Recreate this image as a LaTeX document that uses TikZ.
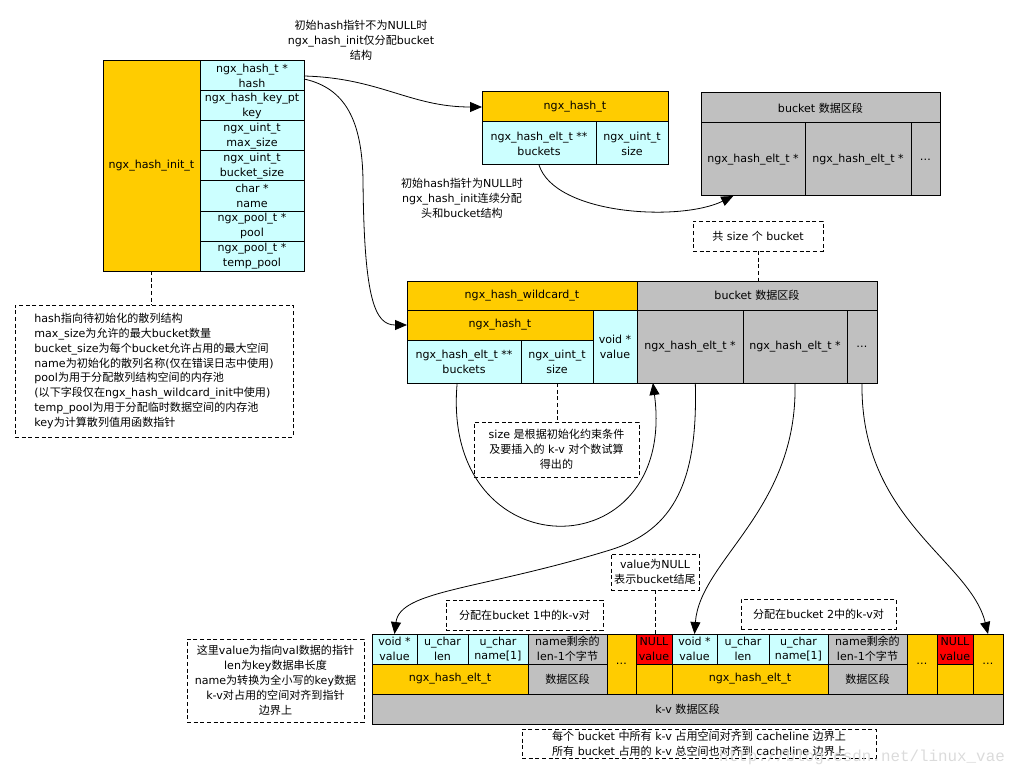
\documentclass[tikz,border=0pt]{standalone}
\usepackage{fontspec}
\setmainfont{DejaVu Sans}
\newfontfamily\cjkfont{Noto Sans CJK SC}
\newfontfamily\wmfont{Liberation Mono}
\usetikzlibrary{arrows.meta, calc}

\XeTeXinterchartokenstate=1
\newXeTeXintercharclass\cjkclass
\newcount\cjkcnt
\cjkcnt="4E00
\loop
\XeTeXcharclass\cjkcnt=\cjkclass
\advance\cjkcnt by 1
\ifnum\cjkcnt<"A000 \repeat
\XeTeXinterchartoks 0 \cjkclass = {\begingroup\cjkfont}
\XeTeXinterchartoks 4095 \cjkclass = {\begingroup\cjkfont}
\XeTeXinterchartoks \cjkclass 0 = {\endgroup}
\XeTeXinterchartoks \cjkclass 4095 = {\endgroup}

\definecolor{hashyellow}{RGB}{255,204,0}
\definecolor{hashcyan}{RGB}{204,255,255}
\definecolor{hashgray}{RGB}{192,192,192}
\definecolor{hashred}{RGB}{255,0,0}

\tikzset{
  dim/.style 2 args={minimum width=#1*0.75pt, minimum height=#2*0.75pt},
  cell/.style={draw, line width=0.75pt, inner sep=0pt, outer sep=0pt, align=center},
  yel/.style={cell, fill=hashyellow},
  cyn/.style={cell, fill=hashcyan},
  gry/.style={cell, fill=hashgray},
  redc/.style={cell, fill=hashred},
  note/.style={draw, line width=0.75pt, dash pattern=on 3pt off 2pt, inner sep=0pt, outer sep=0pt, align=center},
  guide/.style={line width=0.75pt, dash pattern=on 3pt off 2pt},
  link/.style={line width=0.6pt, -{Triangle[length=9pt, width=7.5pt]}}
}

\begin{document}
\begin{tikzpicture}[x=0.75pt, y=-0.75pt, font=\fontsize{8.3pt}{11.2pt}\selectfont]
\useasboundingbox (0,0) rectangle (1019,777);

\node[yel, dim={97}{210}] (init) at (151.5,166) {ngx\_hash\_init\_t};
\node[cyn, dim={104}{30}] (fhash) at (252,76) {ngx\_hash\_t *\\hash};
\node[cyn, dim={104}{30}] (fkey) at (252,106) {ngx\_hash\_key\_pt\\key};
\node[cyn, dim={104}{30}] (fmax) at (252,136) {ngx\_uint\_t\\max\_size};
\node[cyn, dim={104}{30}] (fbsize) at (252,166) {ngx\_uint\_t\\bucket\_size};
\node[cyn, dim={104}{30}] (fname) at (252,196) {char *\\name};
\node[cyn, dim={104}{30}] (fpool) at (252,226) {ngx\_pool\_t *\\pool};
\node[cyn, dim={104}{30}] (ftemp) at (252,256) {ngx\_pool\_t *\\temp\_pool};

\node[note, dim={278}{132}, align=left] (notes) at (154,371) {hash指向待初始化的散列结构\\max\_size为允许的最大bucket数量\\bucket\_size为每个bucket允许占用的最大空间\\name为初始化的散列名称(仅在错误日志中使用)\\pool为用于分配散列结构空间的内存池\\(以下字段仅在ngx\_hash\_wildcard\_init中使用)\\temp\_pool为用于分配临时数据空间的内存池\\key为计算散列值用函数指针};
\draw[guide] (init.south) -- (init.south |- notes.north);

\node[align=center] (lbl1) at (361,40) {初始hash指针不为NULL时\\ngx\_hash\_init仅分配bucket\\结构};
\node[align=center] (lbl2) at (462,198) {初始hash指针为NULL时\\ngx\_hash\_init连续分配\\头和bucket结构};

\node[yel, dim={186}{30}] (th) at (575,107) {ngx\_hash\_t};
\node[cyn, dim={114}{43}] (tbuckets) at (539,143.5) {ngx\_hash\_elt\_t **\\buckets};
\node[cyn, dim={72}{43}] (tsize) at (632,143.5) {ngx\_uint\_t\\size};

\node[gry, dim={239}{30}] (tb) at (820.5,108) {bucket 数据区段};
\node[gry, dim={104}{73}] (tb1) at (753,159.5) {ngx\_hash\_elt\_t *};
\node[gry, dim={106}{73}] (tb2) at (858,159.5) {ngx\_hash\_elt\_t *};
\node[gry, dim={29}{73}] (tb3) at (925.5,159.5) {…};

\node[note, dim={130}{30}] (cnt) at (758,236) {共 size 个 bucket};

\node[yel, dim={230}{29}] (wc) at (522,295.5) {ngx\_hash\_wildcard\_t};
\node[yel, dim={186}{30}] (wh) at (500,325) {ngx\_hash\_t};
\node[cyn, dim={114}{43}] (wbuckets) at (464,361.5) {ngx\_hash\_elt\_t **\\buckets};
\node[cyn, dim={72}{43}] (wsize) at (557,361.5) {ngx\_uint\_t\\size};
\node[cyn, dim={44}{73}] (wvalue) at (615,346.5) {void *\\value};
\node[gry, dim={240}{29}] (wb) at (757,295.5) {bucket 数据区段};
\node[gry, dim={106}{73}] (wb1) at (690,346.5) {ngx\_hash\_elt\_t *};
\node[gry, dim={104}{73}] (wb2) at (795,346.5) {ngx\_hash\_elt\_t *};
\node[gry, dim={30}{73}] (wb3) at (862,346.5) {…};

\node[note, dim={165}{55}] (sznote) at (556.5,449.5) {size 是根据初始化约束条件\\及要插入的 k-v 对个数试算\\得出的};

\node[cyn, dim={45}{30}] (v1) at (394.5,649) {void *\\value};
\node[cyn, dim={51}{30}] (l1) at (442.5,649) {u\_char\\len};
\node[cyn, dim={60}{30}] (n1) at (498,649) {u\_char\\name[1]};
\node[gry, dim={79}{30}] (r1) at (567.5,649) {name剩余的\\len-1个字节};
\node[yel, dim={156}{30}] (e1) at (450,679) {ngx\_hash\_elt\_t};
\node[gry, dim={79}{30}] (d1) at (567.5,679) {数据区段};
\node[yel, dim={29}{60}] (x1) at (621.5,664) {…};
\node[redc, dim={36}{30}] (z1) at (654,649) {NULL\\value};
\node[yel, dim={36}{30}] (y1) at (654,679) {};
\node[cyn, dim={45}{30}] (v2) at (694.5,649) {void *\\value};
\node[cyn, dim={52}{30}] (l2) at (743,649) {u\_char\\len};
\node[cyn, dim={59}{30}] (n2) at (798.5,649) {u\_char\\name[1]};
\node[gry, dim={79}{30}] (r2) at (867.5,649) {name剩余的\\len-1个字节};
\node[yel, dim={156}{30}] (e2) at (750,679) {ngx\_hash\_elt\_t};
\node[gry, dim={79}{30}] (d2) at (867.5,679) {数据区段};
\node[yel, dim={30}{60}] (x2) at (922,664) {…};
\node[redc, dim={36}{30}] (z2) at (955,649) {NULL\\value};
\node[yel, dim={36}{30}] (y2) at (955,679) {};
\node[yel, dim={30}{60}] (x3) at (988,664) {…};
\node[gry, dim={631}{30}] (kv) at (687.5,709) {k-v 数据区段};

\node[note, dim={88}{36}] (nullnote) at (655,572) {value为NULL\\表示bucket结尾};
\node[note, dim={157}{30}] (g1) at (524.5,615) {分配在bucket 1中的k-v对};
\node[note, dim={155}{30}] (g2) at (818.5,614) {分配在bucket 2中的k-v对};
\node[note, dim={177}{83}] (lnote) at (275.5,680.5) {这里value为指向val数据的指针\\len为key数据串长度\\name为转换为全小写的key数据\\k-v对占用的空间对齐到指针\\边界上};
\node[note, dim={354}{29}] (alnote) at (699,743.5) {每个 bucket 中所有 k-v 占用空间对齐到 cacheline 边界上\\所有 bucket 占用的 k-v 总空间也对齐到 cacheline 边界上};

\draw[link] (fhash.east) .. controls (380,78) and (410,107) .. (th.west);
\draw[link] ($(fhash.north east)!.6!(fhash.south east)$) .. controls (345,88) and (362,120) .. (363,180) .. controls (364,300) and (375,325) .. (wh.west);
\draw[link] (tbuckets.south) .. controls (555,215) and (680,222) .. ($(tb1.south west)!.31!(tb1.south east)$);
\draw[guide] (cnt.south) -- (cnt.south |- wb.north);
\draw[guide] (wsize.south) -- (wsize.south |- sznote.north);
\draw[link] ($(wbuckets.south west)!.44!(wbuckets.south east)$) .. controls (440,572) and (678,572) .. ($(wb1.south west)!.15!(wb1.south east)$);
\draw[link] ($(wb1.south west)!.55!(wb1.south east)$) .. controls (698,480) and (675,530) .. (610,550) .. controls (480,590) and (400,590) .. (v1.north);
\draw[link] (wb2.south) .. controls (798,510) and (700,560) .. (v2.north);
\draw[link] (wb3.south) .. controls (860,520) and (970,560) .. (x3.north);
\draw[guide] (nullnote.south) -- (nullnote.south |- z1.north);

\node[text=black!14, font=\wmfont\fontsize{11.9pt}{12pt}\selectfont] (wm) at (862,757) {http://blog.csdn.net/linux\_vae};
\end{tikzpicture}
\end{document}
